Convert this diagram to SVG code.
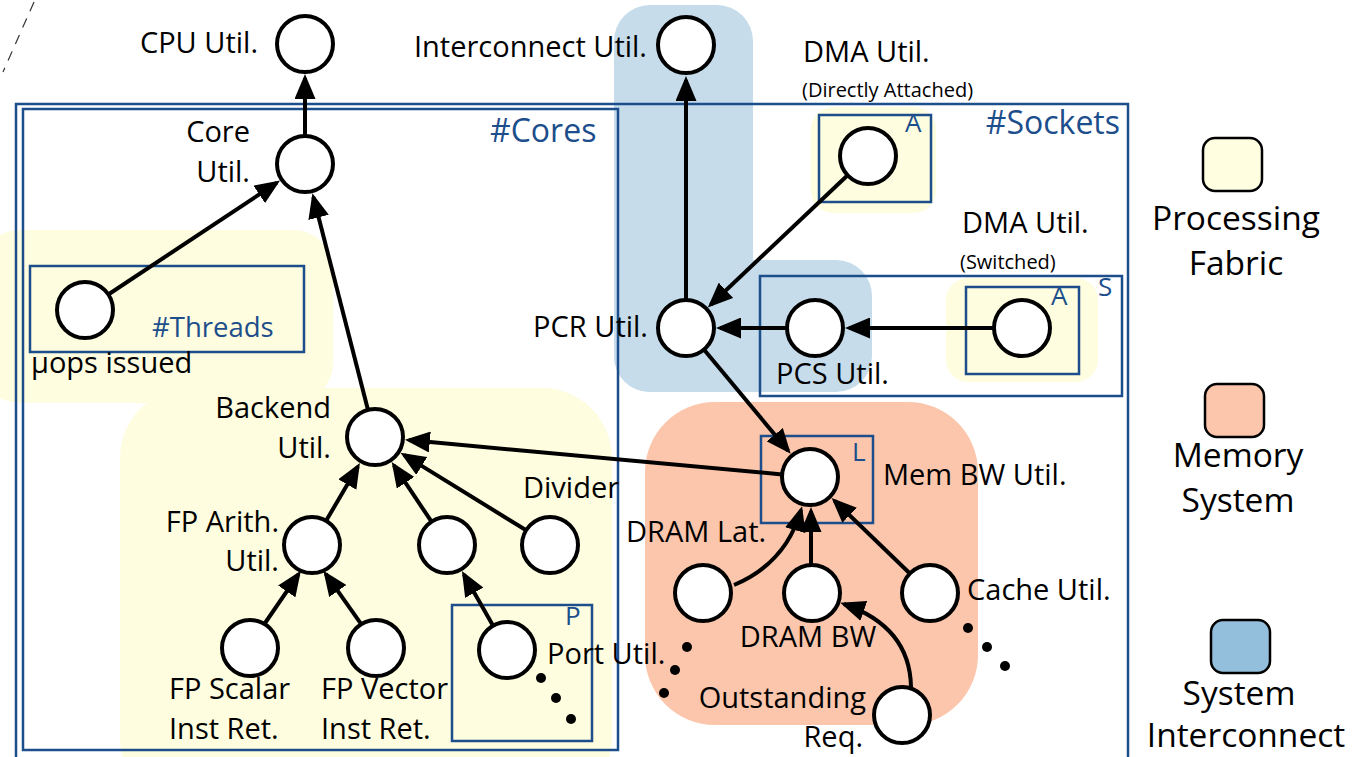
<svg xmlns="http://www.w3.org/2000/svg" width="1356" height="757" viewBox="0 0 1356 757">
<defs>
<style>
.lbl{font-family:"Open Sans","Noto Sans","Liberation Sans",sans-serif;font-size:29px;fill:#000}
.sm{font-family:"Open Sans","Noto Sans","Liberation Sans",sans-serif;font-size:20px;fill:#000}
.bl{font-family:"Open Sans","Noto Sans","Liberation Sans",sans-serif;fill:#1C4E8C}
.leg{font-family:"Open Sans","Noto Sans","Liberation Sans",sans-serif;font-size:33.5px;fill:#000}
.box{fill:none;stroke:#1C4E8C;stroke-width:2.5}
.nd{fill:#fff;stroke:#000;stroke-width:4}
.edge{fill:none;stroke:#000;stroke-width:4;marker-end:url(#ah)}
.yel{fill:#FEFDDF}
.blu{fill:#C6DCEB}
.sal{fill:#FBC6AB}
.sw{stroke:#000;stroke-width:2.5}
.dot{fill:#000}
</style>
<marker id="ah" markerUnits="userSpaceOnUse" markerWidth="25" markerHeight="21" refX="21" refY="10.5" orient="auto">
<path d="M0,0 L25,10.5 L0,21 z" fill="#000"/>
</marker>
</defs>
<rect width="1356" height="757" fill="#fff"/>

<!-- dashed line top-left -->
<line x1="34" y1="2" x2="3" y2="72" stroke="#333" stroke-width="1.2" stroke-dasharray="10,8"/>

<!-- category regions -->
<g id="regions">
<rect class="yel" x="-20" y="230" width="353" height="173" rx="40"/>
<rect class="yel" x="120" y="388" width="492" height="420" rx="70"/>
<rect class="yel" x="811" y="107" width="125" height="106" rx="22"/>
<rect class="yel" x="946" y="278" width="152" height="104" rx="22"/>
<rect class="blu" x="614" y="5" width="139" height="387" rx="36"/>
<rect class="blu" x="614" y="260" width="258" height="132" rx="36"/>
<rect class="sal" x="645" y="402" width="333" height="323" rx="70"/>
</g>

<!-- grouping boxes -->
<g id="boxes">
<rect class="box" x="16" y="104" width="1112" height="680"/>
<rect class="box" x="23" y="109" width="595" height="641"/>
<text class="bl" x="490" y="142" font-size="32">#Cores</text>
<text class="bl" x="1120" y="134" font-size="32" text-anchor="end">#Sockets</text>
<rect class="box" x="30" y="266" width="274" height="86"/>
<text class="bl" x="152" y="337" font-size="27.5">#Threads</text>
<rect class="box" x="819" y="115" width="112" height="87"/>
<text class="bl" x="905" y="132" font-size="26">A</text>
<rect class="box" x="760" y="276" width="362" height="120"/>
<text class="bl" x="1098" y="296" font-size="26">S</text>
<rect class="box" x="966" y="287" width="113" height="87"/>
<text class="bl" x="1051" y="305" font-size="26">A</text>
<rect class="box" x="761" y="436" width="112" height="87"/>
<text class="bl" x="852" y="461" font-size="26">L</text>
<rect class="box" x="452" y="605" width="140" height="136"/>
<text class="bl" x="565" y="625" font-size="26">P</text>
</g>

<!-- connectors -->
<g id="connectors">
<line class="edge" x1="305" y1="136" x2="305" y2="78"/>
<line class="edge" x1="108.3" y1="294.5" x2="276.7" y2="182.8"/>
<line class="edge" x1="368" y1="410" x2="313.4" y2="197"/>
<line class="edge" x1="326.1" y1="520.8" x2="357.9" y2="466.4"/>
<line class="edge" x1="431.5" y1="521.7" x2="393.9" y2="465.3"/>
<line class="edge" x1="526.2" y1="530.3" x2="403.9" y2="454.9"/>
<line class="edge" x1="782.1" y1="474.4" x2="408.9" y2="440.1"/>
<line class="edge" x1="264.4" y1="624" x2="298.6" y2="574.1"/>
<line class="edge" x1="361.2" y1="624.2" x2="325.7" y2="573.9"/>
<line class="edge" x1="493.1" y1="625.7" x2="463.9" y2="574.5"/>
<line class="edge" x1="686" y1="300" x2="686" y2="80"/>
<line class="edge" x1="847.6" y1="175.2" x2="710.7" y2="304.7"/>
<line class="edge" x1="787" y1="328" x2="720" y2="328"/>
<line class="edge" x1="994" y1="328" x2="849" y2="328"/>
<line class="edge" x1="703.9" y1="349.5" x2="788.2" y2="450.8"/>
<path class="edge" d="M734,585 Q786,563 801,510"/>
<line class="edge" x1="811" y1="565" x2="811" y2="511"/>
<line class="edge" x1="909.9" y1="573.5" x2="834.5" y2="500.7"/>
<path class="edge" d="M911,687 Q910,627 844,604"/>
</g>

<!-- nodes -->
<g id="cpu-util"><circle class="nd" cx="305" cy="44" r="28"/><text class="lbl" x="258" y="53" text-anchor="end">CPU Util.</text></g>
<g id="core-util"><circle class="nd" cx="305" cy="164" r="28"/><text class="lbl" x="250" y="142" text-anchor="end">Core</text><text class="lbl" x="250" y="182" text-anchor="end">Util.</text></g>
<g id="uops-issued"><circle class="nd" cx="85" cy="310" r="28"/><text class="lbl" x="31" y="373">μops issued</text></g>
<g id="backend-util"><circle class="nd" cx="375" cy="437" r="28"/><text class="lbl" x="331" y="418" text-anchor="end">Backend</text><text class="lbl" x="331" y="458" text-anchor="end">Util.</text></g>
<g id="fp-arith-util"><circle class="nd" cx="312" cy="545" r="28"/><text class="lbl" x="279" y="532" text-anchor="end">FP Arith.</text><text class="lbl" x="279" y="571" text-anchor="end">Util.</text></g>
<g id="backend-mid"><circle class="nd" cx="447" cy="545" r="28"/></g>
<g id="divider"><circle class="nd" cx="550" cy="545" r="28"/><text class="lbl" x="523" y="498">Divider</text></g>
<g id="fp-scalar"><circle class="nd" cx="250" cy="648" r="28"/><text class="lbl" x="169" y="699">FP Scalar</text><text class="lbl" x="169" y="739">Inst Ret.</text></g>
<g id="fp-vector"><circle class="nd" cx="376" cy="648" r="28"/><text class="lbl" x="321" y="699">FP Vector</text><text class="lbl" x="321" y="739">Inst Ret.</text></g>
<g id="port-util"><circle class="nd" cx="507" cy="650" r="28"/><text class="lbl" x="547" y="664">Port Util.</text>
<circle class="dot" cx="541" cy="678" r="5"/><circle class="dot" cx="556" cy="698" r="5"/><circle class="dot" cx="571" cy="719" r="5"/>
<circle class="dot" cx="687" cy="647" r="5"/><circle class="dot" cx="675" cy="670" r="5"/><circle class="dot" cx="664" cy="693" r="5"/></g>
<g id="interconnect-util"><circle class="nd" cx="686" cy="45" r="28"/><text class="lbl" x="647" y="57" text-anchor="end">Interconnect Util.</text></g>
<g id="dma-direct"><circle class="nd" cx="868" cy="156" r="28"/><text class="lbl" x="803" y="62">DMA Util.</text><text class="sm" x="802" y="97">(Directly Attached)</text></g>
<g id="pcr-util"><circle class="nd" cx="686" cy="328" r="28"/><text class="lbl" x="648" y="337" text-anchor="end">PCR Util.</text></g>
<g id="pcs-util"><circle class="nd" cx="815" cy="328" r="28"/><text class="lbl" x="776" y="384">PCS Util.</text></g>
<g id="dma-switched"><circle class="nd" cx="1022" cy="328" r="28"/><text class="lbl" x="962" y="233">DMA Util.</text><text class="sm" x="960" y="269">(Switched)</text></g>
<g id="mem-bw-util"><circle class="nd" cx="810" cy="477" r="28"/><text class="lbl" x="883" y="485">Mem BW Util.</text></g>
<g id="dram-lat"><circle class="nd" cx="703" cy="593" r="28"/><text class="lbl" x="626" y="542">DRAM Lat.</text></g>
<g id="dram-bw"><circle class="nd" cx="812" cy="593" r="28"/><text class="lbl" x="808" y="647" text-anchor="middle">DRAM BW</text></g>
<g id="cache-util"><circle class="nd" cx="930" cy="593" r="28"/><text class="lbl" x="967" y="600">Cache Util.</text>
<circle class="dot" cx="968" cy="628" r="5"/><circle class="dot" cx="987" cy="647" r="5"/><circle class="dot" cx="1005" cy="666" r="5"/></g>
<g id="outstanding-req"><circle class="nd" cx="902" cy="715" r="28"/><text class="lbl" x="866" y="708" text-anchor="end">Outstanding</text><text class="lbl" x="863" y="747" text-anchor="end">Req.</text></g>

<!-- legend -->
<g id="legend-processing"><rect class="sw" x="1203" y="138" width="59" height="53" rx="12" fill="#FFFEE0"/><text class="leg" x="1236" y="230" text-anchor="middle">Processing</text><text class="leg" x="1236" y="275" text-anchor="middle">Fabric</text></g>
<g id="legend-memory"><rect class="sw" x="1205" y="384" width="59" height="53" rx="12" fill="#FBC6AB"/><text class="leg" x="1238" y="467" text-anchor="middle">Memory</text><text class="leg" x="1238" y="512" text-anchor="middle">System</text></g>
<g id="legend-interconnect"><rect class="sw" x="1211" y="620" width="59" height="53" rx="12" fill="#93BEDC"/><text class="leg" x="1239" y="705" text-anchor="middle">System</text><text class="leg" x="1246" y="747" text-anchor="middle" font-size="32.5">Interconnect</text></g>
</svg>
